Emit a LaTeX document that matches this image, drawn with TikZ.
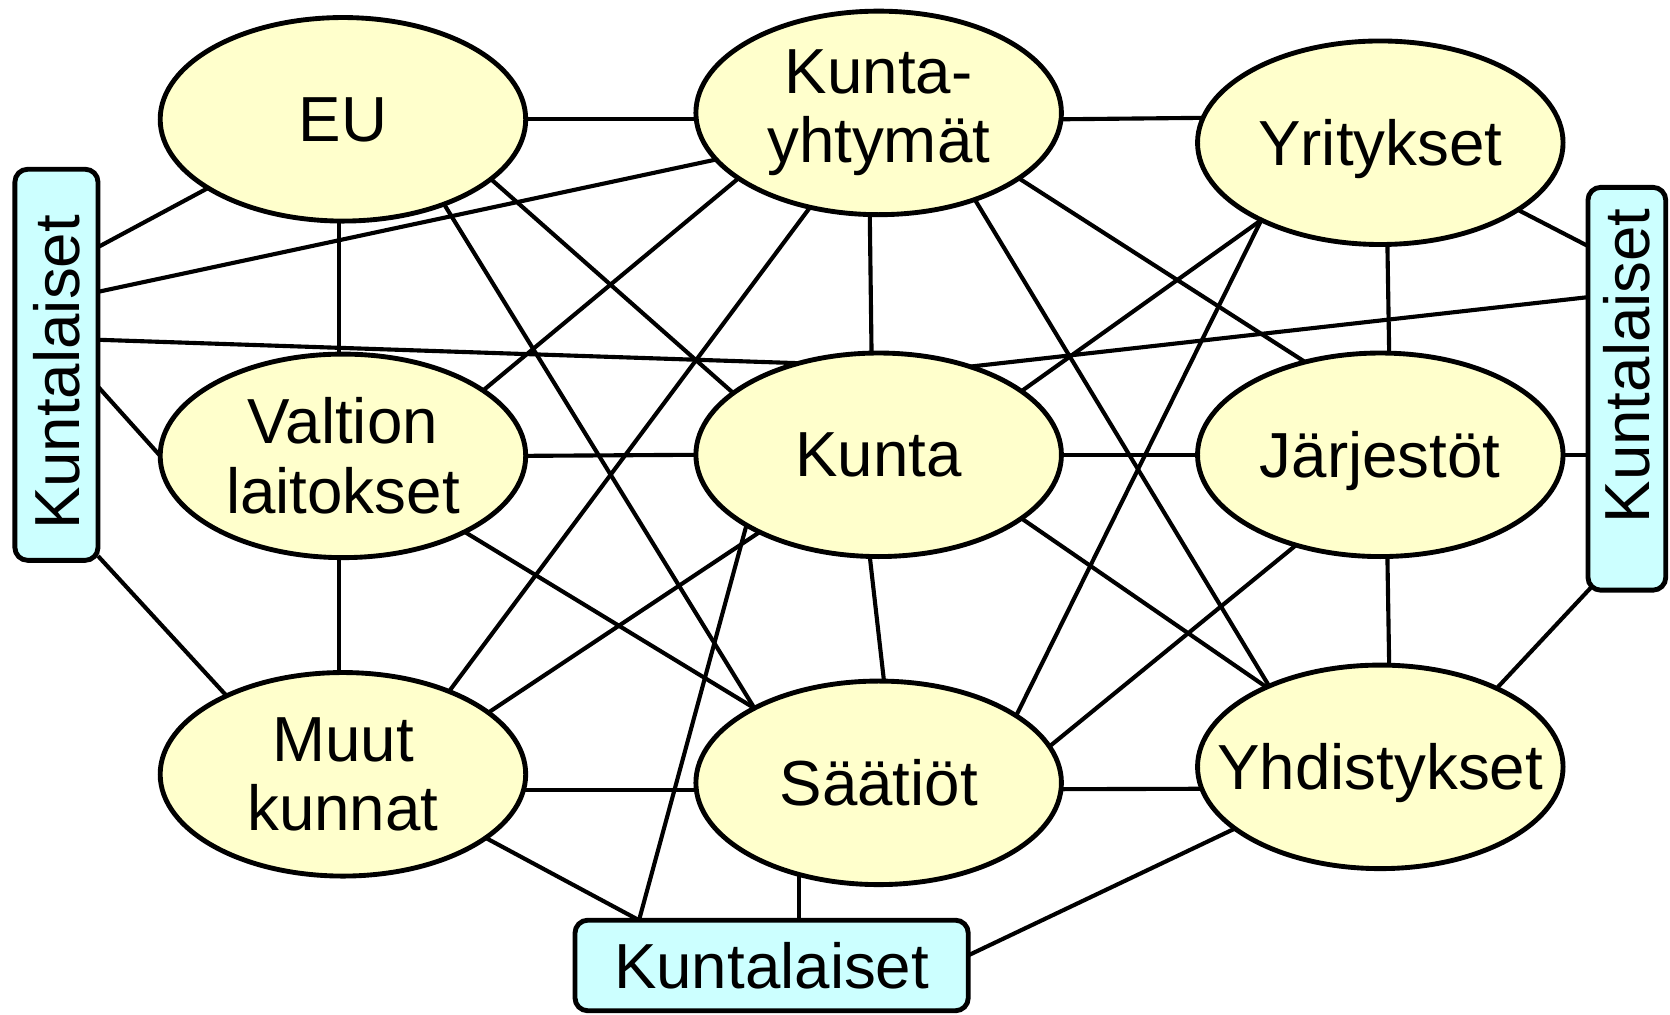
\documentclass[tikz,border=0pt]{standalone}
\usepackage{fontspec}
\setmainfont{Liberation Sans}
\usetikzlibrary{shapes.geometric}
\pgfdeclarelayer{bg}
\pgfsetlayers{bg,main}
\definecolor{ellfill}{HTML}{FFFFCC}
\definecolor{boxfill}{HTML}{CCFFFF}
\newcommand\dfont{\fontsize{17pt}{18.5pt}\selectfont}
\begin{document}
\begin{tikzpicture}[x=0.01cm,y=-0.01cm,
  ell/.style={ellipse, draw, line width=1.3pt, fill=ellfill,
    minimum width=3.43cm, minimum height=1.91cm, inner sep=0pt, outer sep=0pt},
  lab/.style={font=\dfont, align=center, inner sep=0pt},
  lab1/.style={lab, text depth=0pt},
  kbox/.style={rectangle, rounded corners=0.12cm, draw, line width=1.3pt,
    fill=boxfill, inner sep=0pt, outer sep=0pt, font=\dfont},
  conn/.style={line width=1.1pt}]
\useasboundingbox (0,0) rectangle (1568,953);

% ellipses
\node[ell, label={[lab1]center:EU}] (EU) at (322,112) {};
\node[ell, label={[lab]center:Kunta-\\yhtymät}] (KY) at (825,106) {};
\node[ell, label={[lab1]center:Yritykset}] (YR) at (1296,134) {};
\node[ell, label={[lab]center:Valtion\\laitokset}] (VL) at (322,428) {};
\node[ell, label={[lab1]center:Kunta}] (KU) at (825,427) {};
\node[ell, label={[lab1]center:Järjestöt}] (JA) at (1296,427) {};
\node[ell, label={[lab]center:Muut\\kunnat}] (MK) at (322,727) {};
\node[ell, label={[lab1]center:Säätiöt}] (SA) at (825,735) {};
\node[ell, label={[lab1]center:Yhdistykset}] (YH) at (1296,720) {};

% boxes
\node[kbox, minimum width=0.78cm, minimum height=3.67cm, text height=3.1cm] (L) at (53,342.5) {\rotatebox{90}{Kuntalaiset}};
\node[kbox, minimum width=0.73cm, minimum height=3.78cm, text depth=0.43cm] (R) at (1527.5,365) {\rotatebox{90}{Kuntalaiset}};
\node[kbox, minimum width=3.69cm, minimum height=0.85cm] (B) at (724.5,906.5) {Kuntalaiset};

\begin{pgfonlayer}{bg}
\draw[conn] (EU.0) -- (EU.0 -| KY.west);
\draw[conn] (KY.-2) -- (YR.172.2);
\draw[conn] (EU.207.1) -- (L.east |- 0,232);
\draw[conn] (L.east |- 0,274) -- (KY.196.7);
\draw[conn] (EU.268) -- (VL.92);
\draw[conn] (EU.-40.9) -- (SA.149.1);
\draw[conn] (EU.-22) -- (KU.157.5);
\draw[conn] (L.east |- 0,319) -- (KU.131.5);
\draw[conn] (L.east |- 0,363) -- (VL.180);
\draw[conn] (L.east |- 0,522) -- (MK.146.8);
\draw[conn] (KY.205.7) -- (VL.25.4);
\draw[conn] (KY.234.5) -- (MK.38.8);
\draw[conn] (KY.265.7) -- (KU.94.3);
\draw[conn] (KY.-42.4) -- (YH.144.3);
\draw[conn] (KY.-25.2) -- (JA.129.9);
\draw[conn] (YR.213.3) -- (KU.24.5);
\draw[conn] (YR.213.3) -- (SA.26.9);
\draw[conn] (YR.274.1) -- (JA.85.9);
\draw[conn] (YR.-26.9) -- (R.west |- 0,231);
\draw[conn] (R.west |- 0,279) -- (KU.44.7);
\draw[conn] (VL.0) -- (KU.180);
\draw[conn] (KU.0) -- (JA.180);
\draw[conn] (JA.0) -- (JA.0 -| R.west);
\draw[conn] (VL.268) -- (MK.92);
\draw[conn] (VL.-32.2) -- (SA.149.7);
\draw[conn] (KU.213.6) -- (MK.23.7);
\draw[conn] (KU.208.4) -- (B.north -| 600,0);
\draw[conn] (KU.265.3) -- (SA.87.7);
\draw[conn] (KU.-24.5) -- (YH.145);
\draw[conn] (JA.227.8) -- (SA.12);
\draw[conn] (JA.274.1) -- (YH.85.9);
\draw[conn] ([xshift=0.08cm,yshift=0.08cm]R.south west) -- (YH.34);
\draw[conn] (MK.-5) -- (MK.-5 -| SA.west);
\draw[conn] (SA.-2.7) -- (YH.187.8);
\draw[conn] (MK.-24) -- (B.north -| 600,0);
\draw[conn] (SA.229.7) -- (SA.229.7 |- B.north);
\draw[conn] (YH.203.5) -- (B.east |- 0,897);
\end{pgfonlayer}
\end{tikzpicture}
\end{document}
